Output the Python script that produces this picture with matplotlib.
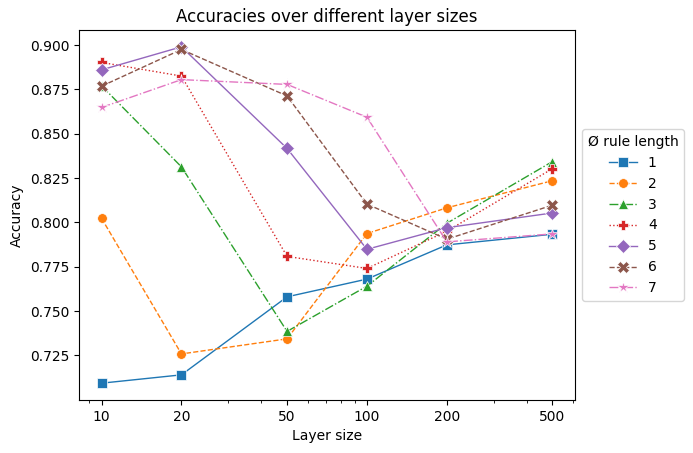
import matplotlib
matplotlib.use("Agg")
import matplotlib.pyplot as plt
from matplotlib.ticker import FixedLocator, FixedFormatter, NullFormatter

layer_sizes = [10, 20, 50, 100, 200, 500]
rule_lengths = ["1", "2", "3", "4", "5", "6", "7"]

acc_1 = [0.7093, 0.7140, 0.7580, 0.7680, 0.7873, 0.7933]
acc_2 = [0.8023, 0.7258, 0.7343, 0.7937, 0.8082, 0.8235]
acc_3 = [0.8770, 0.8313, 0.7385, 0.7640, 0.7995, 0.8343]
acc_4 = [0.8902, 0.8825, 0.7808, 0.7740, 0.7950, 0.8303]
acc_5 = [0.8860, 0.8990, 0.8417, 0.7848, 0.7970, 0.8053]
acc_6 = [0.8768, 0.8975, 0.8713, 0.8103, 0.7905, 0.8097]
acc_7 = [0.8648, 0.8805, 0.8778, 0.8593, 0.7890, 0.7935]

series = [acc_1, acc_2, acc_3, acc_4, acc_5, acc_6, acc_7]
colors = ["#1f77b4", "#ff7f0e", "#2ca02c", "#d62728", "#9467bd", "#8c564b", "#e377c2"]
markers = ["s", "o", "^", "P", "D", "X", "*"]
marker_sizes = [7, 7, 7, 7, 7, 8, 9]
linestyles = ["-", "--", "-.", ":", "-", "--", "-."]

fig = plt.figure(figsize=(6.93, 4.53), dpi=100)
ax = fig.add_axes([79/693, 1 - 400/453, (575 - 79)/693, (400 - 30)/453])

for name, vals, c, m, ms, ls in zip(rule_lengths, series, colors, markers, marker_sizes, linestyles):
    ax.plot(layer_sizes, vals, color=c, marker=m, linestyle=ls, linewidth=1,
            markersize=ms, markeredgecolor="white", markeredgewidth=0.5, label=name)

ax.set_xscale("log")
ax.xaxis.set_major_locator(FixedLocator(layer_sizes))
ax.xaxis.set_major_formatter(FixedFormatter([str(v) for v in layer_sizes]))
ax.xaxis.set_minor_formatter(NullFormatter())
ax.set_yticks([0.725, 0.75, 0.775, 0.8, 0.825, 0.85, 0.875, 0.9])
ax.set_xlabel("Layer size")
ax.set_ylabel("Accuracy")
ax.set_title("Accuracies over different layer sizes")
ax.legend(title="Ø rule length", loc="center left", bbox_to_anchor=(1.0, 0.5))

fig.savefig("out.png", dpi=100)
